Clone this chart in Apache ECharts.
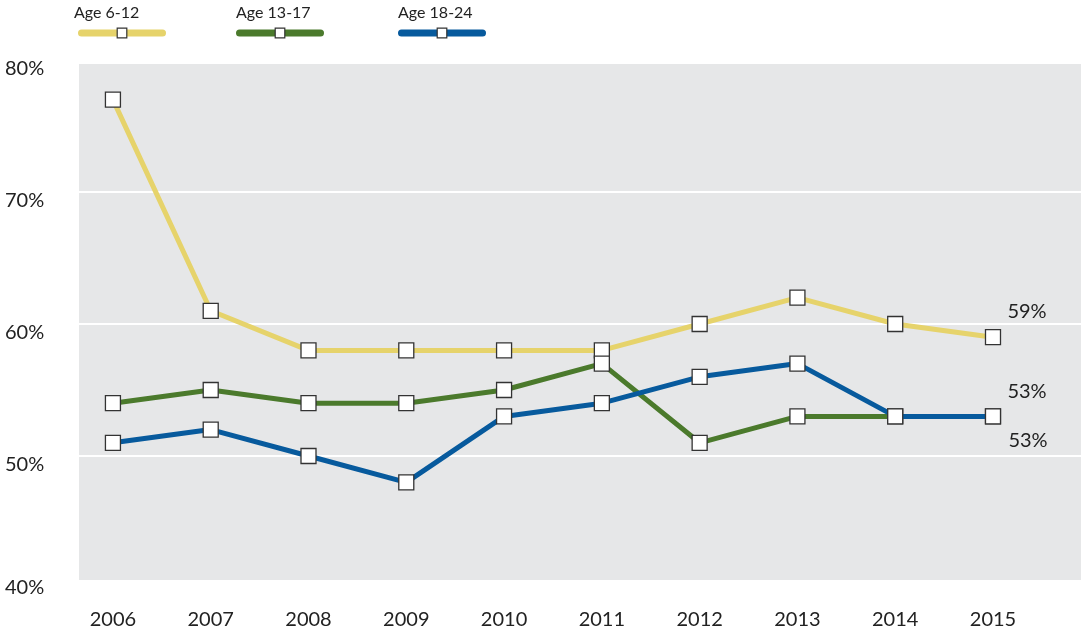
<!DOCTYPE html>
<html><head><meta charset="utf-8">
<script src="https://cdn.jsdelivr.net/npm/echarts@6/dist/echarts.min.js"></script>
<style>html,body{margin:0;padding:0;background:#fff}#c{width:1081px;height:638px}</style>
</head><body><div id="c"></div>
<script>
var years = [2006, 2007, 2008, 2009, 2010, 2011, 2012, 2013, 2014, 2015];
var seriesNames = ['Age 6-12', 'Age 13-17', 'Age 18-24'];
var age6to12 = [77, 61, 58, 58, 58, 58, 60, 62, 60, 59];
var age13to17 = [54, 55, 54, 54, 55, 57, 51, 53, 53, 53];
var age18to24 = [51, 52, 50, 48, 53, 54, 56, 57, 53, 53];
var yTicks = [40, 50, 60, 70, 80];

var colors = ['#e6d36b', '#4b7a2c', '#075a9d'];
var values = [age6to12, age13to17, age18to24];
var endOffsets = [[34, -26], [35, 24], [34, -25]];
var FONT = 'Lato';

function pairs(arr) { return arr.map(function (v, i) { return [years[i], v]; }); }

var chart = echarts.init(document.getElementById('c'));
var series = values.map(function (arr, k) {
  var d = pairs(arr);
  var last = d.length - 1;
  return {
    name: seriesNames[k], type: 'line', xAxisIndex: 1, yAxisIndex: 1,
    data: d.map(function (p, i) {
      if (i !== last) return p;
      return { value: p, label: { show: true, formatter: p[1] + '%', position: 'inside', offset: endOffsets[k],
        fontSize: 20, color: '#222', fontFamily: FONT } };
    }),
    symbol: 'rect', symbolSize: 15, showAllSymbol: true,
    lineStyle: { color: colors[k], width: 5 },
    itemStyle: { color: '#fff', borderColor: '#333', borderWidth: 1.3 },
    z: 3 + k, animation: false
  };
});

var legendLefts = [78, 236, 398];
var legends = seriesNames.map(function (n, k) {
  return { data: [n], left: legendLefts[k], top: 27, padding: 0, itemWidth: 81, itemHeight: 12,
    formatter: function () { return ''; }, selectedMode: false,
    lineStyle: { width: 7, cap: 'round' },
    itemStyle: { color: '#fff', borderColor: '#333', borderWidth: 1.2 } };
});
var legendTextLefts = [74, 236, 398];
var titles = seriesNames.map(function (n, k) {
  return { text: n, left: legendTextLefts[k], top: 5, padding: 0,
    textStyle: { fontSize: 16, fontWeight: 'normal', fontFamily: FONT, color: '#222' } };
});

chart.setOption({
  animation: false,
  textStyle: { fontFamily: FONT },
  title: titles,
  legend: legends,
  grid: [
    { left: 79, right: 0, top: 64, bottom: 58, show: true, backgroundColor: '#e6e7e8', borderWidth: 0, z: 0 },
    { left: 79, right: 0, top: 60, bottom: 50, z: 1 }
  ],
  xAxis: [
    { type: 'value', gridIndex: 0, show: false, min: 0, max: 1 },
    { type: 'value', gridIndex: 1, min: 2005.653, max: 2015.9,
      axisLine: { show: false }, axisTick: { show: false }, splitLine: { show: false },
      axisLabel: { customValues: years, formatter: function (v) { return String(v); }, fontSize: 20, color: '#222', margin: 22, fontFamily: FONT } }
  ],
  yAxis: [
    { type: 'value', gridIndex: 0, show: false, min: 0, max: 1 },
    { type: 'value', gridIndex: 1, min: 40, max: 80, interval: 10,
      axisLine: { show: false }, axisTick: { show: false },
      splitLine: { show: true, lineStyle: { color: '#fff', width: 2 } },
      axisLabel: { align: 'left', margin: 74, color: '#222', fontSize: 20, fontFamily: FONT,
        formatter: function (v) { return (v === yTicks[0] ? '{b|' : '{a|') + v + '%}'; },
        rich: { a: { padding: [18, 0, 0, 0], fontSize: 20, color: '#222', fontFamily: FONT },
                b: { padding: [0, 0, 0, 0], fontSize: 20, color: '#222', fontFamily: FONT } } } }
  ],
  series: series
});
</script></body></html>
